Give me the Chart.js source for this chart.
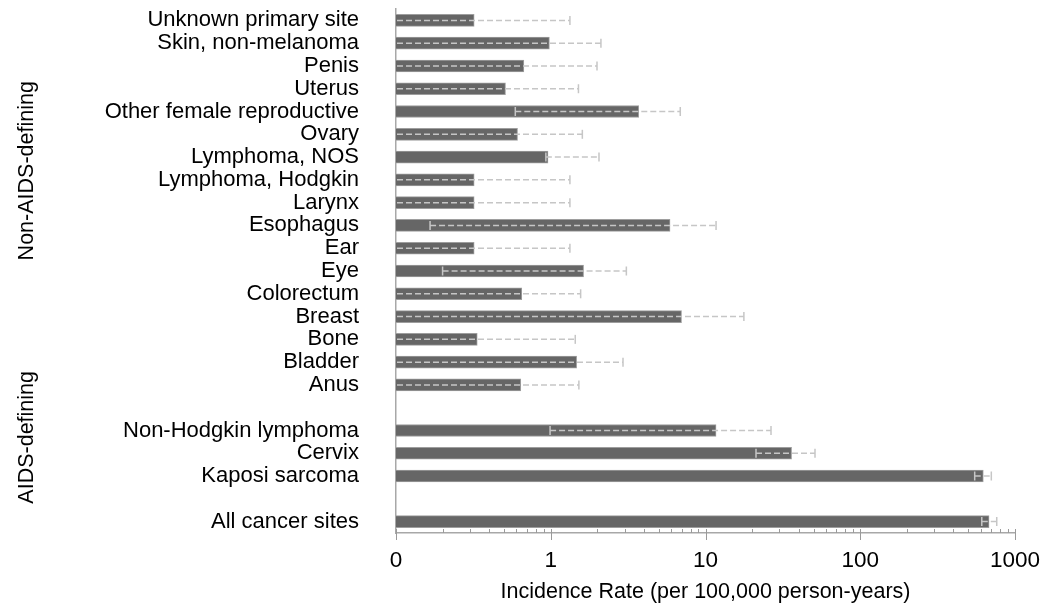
<!DOCTYPE html>
<html>
<head>
<meta charset="utf-8">
<title>Incidence rates by cancer site</title>
<script src="https://cdn.jsdelivr.net/npm/chart.js@4.4.1/dist/chart.umd.min.js"></script>
<style>
    html, body { margin: 0; padding: 0; background: #fff; }
    #wrap { width: 1043px; height: 606px; }
</style>
</head>
<body>
<div id="wrap"><canvas id="chart"></canvas></div>
<script>
// Cancer sites, top to bottom ('' = spacer row between groups)
const sites = [
    'Unknown primary site', 'Skin, non-melanoma', 'Penis', 'Uterus',
    'Other female reproductive', 'Ovary', 'Lymphoma, NOS', 'Lymphoma, Hodgkin',
    'Larynx', 'Esophagus', 'Ear', 'Eye', 'Colorectum', 'Breast', 'Bone',
    'Bladder', 'Anus', '', 'Non-Hodgkin lymphoma', 'Cervix', 'Kaposi sarcoma',
    '', 'All cancer sites'
];

// Incidence rate per 100,000 person-years
const rates = [
    0.32, 0.98, 0.67, 0.51, 3.7, 0.61, 0.96, 0.32,
    0.32, 5.9, 0.32, 1.63, 0.65, 7.0, 0.335,
    1.47, 0.64, null, 11.7, 36, 624,
    null, 680
];

// 95% CI bounds (0 = lower bound falls below the axis start)
const lowerCI = [
    0, 0, 0, 0, 0.59, 0, 0.93, 0,
    0, 0.166, 0, 0.2, 0, 0, 0,
    0, 0, null, 0.99, 21.2, 549,
    null, 610
];
const upperCI = [
    1.33, 2.11, 1.99, 1.51, 6.87, 1.6, 2.05, 1.33,
    1.33, 11.7, 1.33, 3.08, 1.56, 17.7, 1.44,
    2.93, 1.52, null, 26.5, 51, 703,
    null, 762
];

const xTicks = [0.1, 1, 10, 100, 1000];
const groupLabels = ['Non-AIDS-defining', 'AIDS-defining'];

const FONT = '"Liberation Sans", Arial, Helvetica, sans-serif';
Chart.defaults.font.family = FONT;
Chart.defaults.color = '#000';

// dashed CI lines with end caps
const errorBars = {
    id: 'errorBars',
    afterDatasetsDraw(chart) {
        const { ctx, scales: { x, y } } = chart;
        ctx.save();
        ctx.strokeStyle = '#c6c6c6';
        ctx.lineWidth = 1.5;
        upperCI.forEach((hiVal, i) => {
            if (hiVal == null) return;
            const py = y.getPixelForValue(i);
            const hasLo = lowerCI[i] > x.min;
            const lo = hasLo ? x.getPixelForValue(lowerCI[i]) : x.left + 1;
            const hi = x.getPixelForValue(hiVal);
            ctx.setLineDash([6, 3]);
            ctx.beginPath();
            ctx.moveTo(lo, py);
            ctx.lineTo(hi, py);
            ctx.stroke();
            ctx.setLineDash([]);
            ctx.beginPath();
            ctx.moveTo(hi, py - 4.5);
            ctx.lineTo(hi, py + 4.5);
            if (hasLo) {
                ctx.moveTo(lo, py - 4.5);
                ctx.lineTo(lo, py + 4.5);
            }
            ctx.stroke();
        });
        ctx.restore();
    }
};

// log axis tick marks + rotated group labels
const decorations = {
    id: 'decorations',
    afterDraw(chart) {
        const { ctx, scales: { x, y } } = chart;
        const base = x.top;
        ctx.save();
        ctx.strokeStyle = '#9a9a9a';
        ctx.lineWidth = 1;
        ctx.beginPath();
        xTicks.forEach((t, k) => {
            const px = Math.round(x.getPixelForValue(t)) + 0.5;
            ctx.moveTo(px, base - 4);
            ctx.lineTo(px, base + 7);
            if (k === xTicks.length - 1) return;
            for (let m = 2; m <= 9; m++) {
                const mx = Math.round(x.getPixelForValue(t * m)) + 0.5;
                ctx.moveTo(mx, base - 4);
                ctx.lineTo(mx, base);
            }
        });
        ctx.stroke();

        ctx.fillStyle = '#000';
        ctx.font = '21.5px ' + FONT;
        ctx.textAlign = 'center';
        ctx.textBaseline = 'middle';
        const centers = [6.6, 18.3];
        groupLabels.forEach((txt, g) => {
            const cy = y.getPixelForValue(centers[g]);
            ctx.save();
            ctx.translate(27, cy);
            ctx.rotate(-Math.PI / 2);
            ctx.fillText(txt, 0, 0);
            ctx.restore();
        });
        ctx.restore();
    }
};

new Chart(document.getElementById('chart').getContext('2d'), {
    type: 'bar',
    data: {
        labels: sites,
        datasets: [{
            label: 'Incidence rate',
            data: rates,
            backgroundColor: '#666666',
            borderColor: '#9e9e9e',
            borderWidth: 1,
            barThickness: 12
        }]
    },
    options: {
        indexAxis: 'y',
        responsive: true,
        maintainAspectRatio: false,
        animation: false,
        layout: { padding: { top: 9, right: 28, left: 0, bottom: 0 } },
        plugins: {
            legend: { display: false },
            tooltip: { enabled: false }
        },
        scales: {
            x: {
                type: 'logarithmic',
                min: 0.1,
                max: 1000,
                afterBuildTicks: (s) => { s.ticks = xTicks.map(v => ({ value: v })); },
                afterFit: (s) => {
                    s.height = 73;
                    s.paddingLeft = 0;
                    s.paddingRight = 0;
                },
                ticks: {
                    callback: (v) => (v < 1 ? '0' : String(v)),
                    font: { size: 22.5 },
                    color: '#000',
                    padding: 14,
                    maxRotation: 0,
                    autoSkip: false
                },
                grid: { display: false, drawTicks: false },
                border: { display: true, color: '#a8a8a8', width: 1.5 },
                title: {
                    display: true,
                    text: 'Incidence Rate (per 100,000 person-years)',
                    font: { size: 21.5 },
                    color: '#000',
                    padding: { top: 6, bottom: 1 }
                }
            },
            y: {
                afterFit: (s) => {
                    s.width = 396;
                    s.paddingTop = 0;
                    s.paddingBottom = 0;
                },
                ticks: {
                    font: { size: 22 },
                    color: '#000',
                    padding: 37,
                    autoSkip: false
                },
                grid: { display: false, drawTicks: false },
                border: { display: true, color: '#a8a8a8', width: 1.5 }
            }
        }
    },
    plugins: [errorBars, decorations]
});
</script>
</body>
</html>
